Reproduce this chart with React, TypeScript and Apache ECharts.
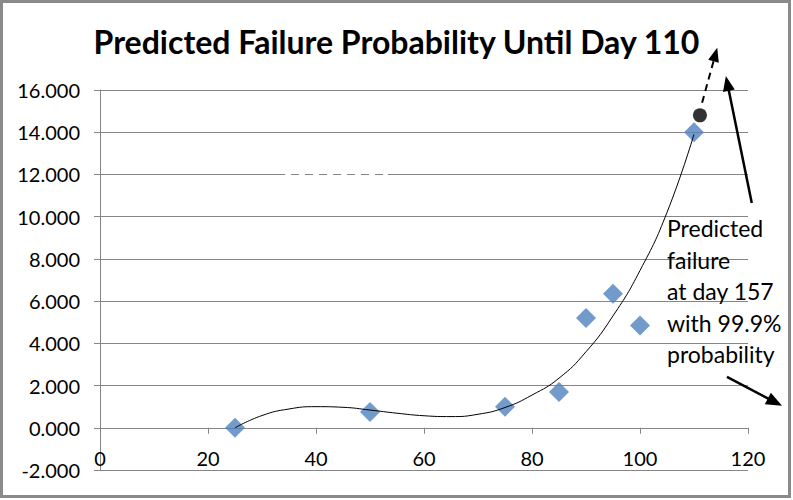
import React, { useEffect, useRef } from "react";
import * as echarts from "echarts";

// Observed failure probability by day
const days = [25, 50, 75, 85, 90, 95, 100, 110];
const probability = [0.0, 0.75, 1.0, 1.7, 5.2, 6.35, 4.85, 14.0];

// Trend line
const trendDays = [25, 30, 35, 40, 45, 50, 55, 60, 65, 70, 75, 80, 85, 90, 95, 100, 105, 110];
const trendValues = [0.0, 0.58, 0.89, 1.0, 0.97, 0.84, 0.69, 0.57, 0.53, 0.64, 0.96, 1.55, 2.35, 3.6, 5.3, 7.45, 10.2, 13.9];

// Predicted point
const predictedPoint = [111.1, 14.8];

// Annotation arrows in data coordinates: [from, to]
const dashedArrow = [[111.5, 15.4], [114.3, 18.0]];
const upArrow = [[120.7, 10.65], [115.9, 16.66]];
const downArrow = [[116.1, 2.41], [126.3, 1.04]];
const gapSegment = [[33.9, 12], [53.3, 12]];

const titleText = "Predicted Failure Probability Until Day 110";
const noteLines = ["Predicted", "failure", "at day 157", "with 99.9%", "probability"];
const noteAnchor = [105.0, 10.2];

const FONT = "Lato, 'Open Sans', sans-serif";
const GRID = "#868686";
const Y_MIN = -2;
const Y_MAX = 16;
const GRID_TOP = 90;
const GRID_BOTTOM = 30;
const CHART_H = 500;

export default function App() {
  const ref = useRef<HTMLDivElement>(null);
  useEffect(() => {
    if (!ref.current) return;
    const chart = echarts.init(ref.current, null, { renderer: "svg" });
    const gridH = CHART_H - GRID_TOP - GRID_BOTTOM;
    const zeroOffset = ((0 - Y_MIN) / (Y_MAX - Y_MIN)) * gridH;
    chart.setOption({
      animation: false,
      backgroundColor: "#ffffff",
      title: {
        text: titleText,
        left: "center",
        top: 20,
        textStyle: { fontFamily: FONT, fontSize: 32, fontWeight: "bold", color: "#000" },
      },
      grid: {
        left: 100,
        right: 45,
        top: GRID_TOP,
        bottom: GRID_BOTTOM,
        containLabel: false,
        outerBoundsMode: "none",
      },
      xAxis: {
        type: "value",
        min: 0,
        max: 120,
        interval: 20,
        position: "bottom",
        offset: -zeroOffset,
        axisLine: { show: true, onZero: false, lineStyle: { color: GRID, width: 1 } },
        axisTick: { show: true, inside: false, length: 6, lineStyle: { color: GRID } },
        axisLabel: { margin: 20, fontFamily: FONT, fontSize: 20, color: "#000" },
        splitLine: { show: false },
      },
      yAxis: {
        type: "value",
        min: Y_MIN,
        max: Y_MAX,
        interval: 2,
        axisLine: { show: true, lineStyle: { color: GRID, width: 1 } },
        axisTick: { show: true, inside: false, length: 6, lineStyle: { color: GRID } },
        axisLabel: {
          margin: 20,
          fontFamily: FONT,
          fontSize: 20,
          color: "#000",
          formatter: (v: number) => v.toFixed(3),
        },
        splitLine: { show: true, lineStyle: { color: GRID, width: 1 } },
      },
      series: [
        {
          type: "scatter",
          data: days.map((d, i) => [d, probability[i]]),
          symbol: "diamond",
          symbolSize: 20,
          itemStyle: { color: "#4F81BD" },
          z: 2,
        },
        {
          type: "line",
          data: trendDays.map((d, i) => [d, trendValues[i]]),
          smooth: 0.5,
          symbol: "none",
          lineStyle: { color: "#000", width: 1 },
          z: 3,
        },
        {
          type: "scatter",
          data: [predictedPoint],
          symbol: "circle",
          symbolSize: 14,
          itemStyle: { color: "#000" },
          z: 4,
        },
      ],
    });

    const px = (p: number[]) => chart.convertToPixel({ gridIndex: 0 }, p) as number[];
    const arrow = (seg: number[][], dashed: boolean, width: number, headLen: number, headW: number) => {
      const a = px(seg[0]);
      const b = px(seg[1]);
      const dx = b[0] - a[0];
      const dy = b[1] - a[1];
      const len = Math.hypot(dx, dy);
      const ux = dx / len;
      const uy = dy / len;
      const base = [b[0] - ux * headLen, b[1] - uy * headLen];
      const nx = -uy;
      const ny = ux;
      return [
        {
          type: "line",
          shape: { x1: a[0], y1: a[1], x2: base[0] + ux * 1, y2: base[1] + uy * 1 },
          style: { stroke: "#000", lineWidth: width, lineDash: dashed ? [7, 5] : undefined },
          z: 100,
        },
        {
          type: "polygon",
          shape: {
            points: [
              [b[0], b[1]],
              [base[0] + (nx * headW) / 2, base[1] + (ny * headW) / 2],
              [base[0] - (nx * headW) / 2, base[1] - (ny * headW) / 2],
            ],
          },
          style: { fill: "#000" },
          z: 100,
        },
      ];
    };

    const g1 = px(gapSegment[0]);
    const g2 = px(gapSegment[1]);
    const note = px(noteAnchor);

    chart.setOption({
      graphic: [
        {
          type: "line",
          shape: { x1: g1[0], y1: g1[1], x2: g2[0], y2: g2[1] },
          style: { stroke: "#ffffff", lineWidth: 2, lineDash: [6, 8], lineDashOffset: -2 },
          z: 50,
        },
        ...arrow(dashedArrow, true, 2, 14, 11),
        ...arrow(upArrow, false, 2.5, 15, 12),
        ...arrow(downArrow, false, 2.5, 16, 13),
        {
          type: "text",
          x: note[0],
          y: note[1],
          style: {
            text: noteLines.join("\n"),
            font: `23px ${FONT}`,
            fill: "#000",
            lineHeight: 31.5,
            textVerticalAlign: "top",
          },
          z: 100,
        },
        {
          type: "rect",
          shape: { x: 1.5, y: 1.5, width: 788, height: 495 },
          style: { fill: "none", stroke: "#8a8a8a", lineWidth: 3 },
          z: 200,
        },
      ],
    });

    return () => chart.dispose();
  }, []);
  return (
    <div
      ref={ref}
      style={{ position: "absolute", left: 0, top: 0, width: 793, height: 500 }}
    />
  );
}
